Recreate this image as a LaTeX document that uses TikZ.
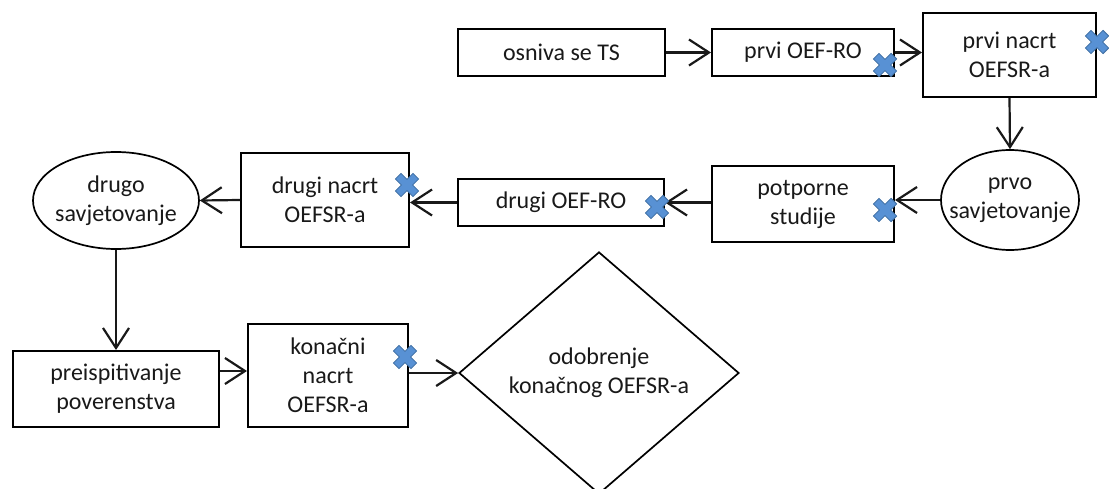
\documentclass[tikz,border=0pt]{standalone}
\usepackage{fontspec}
\setmainfont{Carlito}
\usetikzlibrary{shapes.geometric,arrows.meta}

\definecolor{inkgray}{RGB}{25,25,25}
\definecolor{markfill}{RGB}{88,145,212}
\definecolor{markedge}{RGB}{62,110,160}

\tikzset{
  every node/.style={font=\fontsize{24}{29}\selectfont, text=inkgray, align=center, inner sep=0pt},
  stepbox/.style={draw=black, line width=2pt, rectangle},
  roundbox/.style={draw=black, line width=1.7pt, ellipse},
  decisionbox/.style={draw=black, line width=1.7pt, diamond},
  flow/.style={draw=black!90, line width=2.2pt, -{Straight Barb[length=20pt,width=26pt,line width=2.2pt]}},
  cross/.style={fill=markfill, draw=markedge, line width=0.8pt},
}

% blue X marker centred at a given point
\newcommand{\xmarkat}[1]{%
  \path[cross, shift={#1}, rotate=45]
    (-4,12.5) -- (4,12.5) -- (4,4) -- (12.5,4) -- (12.5,-4) -- (4,-4) --
    (4,-12.5) -- (-4,-12.5) -- (-4,-4) -- (-12.5,-4) -- (-12.5,4) -- (-4,4) -- cycle;}

\begin{document}
\begin{tikzpicture}[x=1pt, y=-1pt]
  \useasboundingbox (0,0) rectangle (1109,489);

  % top row
  \node[stepbox, minimum width=207pt, minimum height=47pt] (ts) at (561.5,52.5) {osniva se TS};
  \node[stepbox, minimum width=182pt, minimum height=47pt] (oef1) at (803,52.5) {prvi OEF-RO};
  \node[stepbox, minimum width=173pt, minimum height=84pt] (nac1) at (1009.5,55) {prvi nacrt\\OEFSR-a};

  % middle row
  \node[roundbox, minimum width=138pt, minimum height=100pt] (sav1) at (1010,200) {};
  \node (sav1t) at (1010,200) {prvo\\savjetovanje};
  \node[stepbox, minimum width=182pt, minimum height=76pt] (pot) at (803,204) {potporne\\studije};
  \node[stepbox, minimum width=206pt, minimum height=47pt] (oef2) at (561,202.5) {drugi OEF-RO};
  \node[stepbox, minimum width=168pt, minimum height=94pt] (nac2) at (325,200) {drugi nacrt\\OEFSR-a};
  \node[roundbox, minimum width=166pt, minimum height=97pt] (sav2) at (116,200.5) {};
  \node (sav2t) at (116,200.5) {drugo\\savjetovanje};

  % bottom row
  \node[stepbox, minimum width=206pt, minimum height=76pt] (pre) at (116,389) {preispitivanje\\poverenstva};
  \node[stepbox, minimum width=160pt, minimum height=103pt] (kon) at (328,375.5) {konačni\\nacrt\\OEFSR-a};
  \node[decisionbox, minimum width=280pt, minimum height=242pt] (odo) at (599,373) {odobrenje\\konačnog OEFSR-a};

  % connectors
  \draw[flow] (ts.east) -- (oef1.west);
  \draw[flow] (oef1.east) -- (oef1.east -| nac1.west);
  \draw[flow] (nac1.south) -- (sav1.north);
  \draw[flow] (sav1.west) -- (sav1.west -| pot.east);
  \draw[flow] (pot.west |- oef2.east) -- (oef2.east);
  \draw[flow] (oef2.west) -- (oef2.west -| nac2.east);
  \draw[flow] (nac2.west) -- (sav2.east);
  \draw[flow] (sav2.south) -- (sav2.south |- pre.north);
  \draw[flow] (pre.east |- 0,371) -- (kon.west |- 0,371);
  \draw[flow] (kon.east |- odo.west) -- (odo.west);

  % markers
  \xmarkat{(885,65)}
  \xmarkat{(1097,42)}
  \xmarkat{(885,210)}
  \xmarkat{(657,207)}
  \xmarkat{(407,185)}
  \xmarkat{(405,357)}
\end{tikzpicture}
\end{document}
